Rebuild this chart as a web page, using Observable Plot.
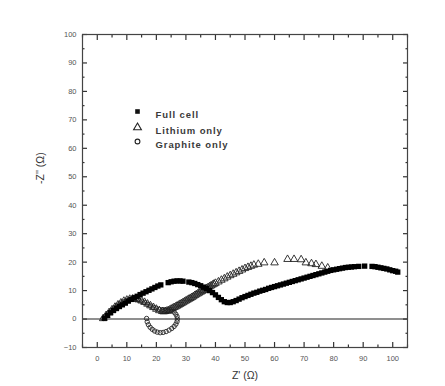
<!DOCTYPE html>
<html><head><meta charset="utf-8">
<script src="https://cdn.jsdelivr.net/npm/d3@7"></script>
<script src="https://cdn.jsdelivr.net/npm/@observablehq/plot@0.6"></script>
<style>
html,body{margin:0;padding:0;background:#fff;}
#chart{width:445px;height:386px;}
</style>
</head><body><div id="chart"></div>
<script>
// Full cell (filled squares)
const fullX = [2.5,3.5,4.5,5.5,6.5,7.5,8.5,9.5,10.5,11.5,12.5,13.5,14.5,15.5,16.5,17.5,18.5,19.5,20.5,21.5,24,25,26,27,28,29,31,32,33,34,35,36,37,38,39,40,41,42,43,44,45,46,47,48,49,50,51,52,53,54,55,56,57,58,59,60,61,62,63,64,65,66,67,68,69,70,71,72,73,74,75,76,77,78,79,80,81,82,83,84,85,86,87,88.5,90.5,93,94,95,96,97,98,99,100,101,101.7];
const fullY = [0.3,1.3,2.2,3.0,3.7,4.4,5.0,5.6,6.3,6.9,7.5,8.0,8.6,9.1,9.6,10.1,10.6,11.1,11.6,12.0,12.8,13.1,13.3,13.4,13.4,13.3,13.0,12.8,12.5,12.1,11.7,11.2,10.7,10.0,9.3,8.5,7.6,6.8,6.1,5.8,5.8,6.1,6.5,7.0,7.5,7.9,8.3,8.7,9.1,9.4,9.8,10.1,10.4,10.8,11.1,11.4,11.7,12.0,12.3,12.6,12.9,13.2,13.5,13.8,14.1,14.4,14.7,15.0,15.3,15.6,15.9,16.2,16.5,16.8,17.1,17.3,17.5,17.7,17.9,18.1,18.2,18.3,18.4,18.5,18.6,18.5,18.4,18.2,18.0,17.8,17.6,17.3,17.0,16.8,16.5,16.3];

// Lithium only (open triangles)
const lithX = [2,3,4,5,6,7,8,9,10,11,12,13,14,15,16,17,18,19,20,21,22,22.5,23,23.5,24,24.5,25,25.5,26,26.5,27,27.5,28,28.5,29,29.5,30,30.5,31,31.5,32,32.5,33,33.5,34,34.5,35,35.5,36,36.5,37,37.5,38,38.5,39,39.5,40,41,42,43,44,45,46,47,48,49,50,51,52,53,54.5,56.5,60,64.4,66.6,69,70.6,72.5,74,76,78];
const lithY = [0.2,1.3,2.3,3.3,4.2,5.0,5.7,6.3,6.7,7.0,7.1,7.0,6.8,6.4,5.9,5.3,4.7,4.1,3.5,3.0,2.7,2.6,2.7,2.8,3.0,3.2,3.5,3.8,4.1,4.3,4.6,4.9,5.2,5.5,5.8,6.1,6.4,6.7,7.0,7.3,7.6,7.9,8.3,8.6,8.9,9.2,9.5,9.8,10.1,10.5,10.8,11.1,11.4,11.7,12.0,12.3,12.6,13.1,13.7,14.2,14.8,15.3,15.8,16.3,16.8,17.3,17.8,18.2,18.6,19.0,19.3,19.8,19.8,21.0,21.0,20.9,19.8,19.5,19.2,18.6,18.0];

// Graphite only (open circles)
const graphX = [2,3,4,5,6,7,8,9,10,11,12,13,14,15,16,17,18,19,20,21,22,23,24,25,26,26.6,27,27.1,27,26.6,26,25.2,24.3,23.3,22.3,21.3,20.3,19.4,18.6,17.9,17.3,16.9,16.7];
const graphY = [0.2,1.2,2.3,3.2,4.1,4.9,5.6,6.1,6.6,6.9,7.0,6.9,6.7,6.3,5.8,5.2,4.6,4.1,3.7,3.4,3.2,3.1,3.0,2.8,2.4,1.7,0.9,0.0,-0.9,-1.8,-2.6,-3.3,-3.9,-4.4,-4.7,-4.8,-4.6,-4.2,-3.6,-2.9,-2.0,-1.0,0.2];

const xTicks = [0,10,20,30,40,50,60,70,80,90,100];
const xMinor = [-5,5,15,25,35,45,55,65,75,85,95,105];
const yTicks = [-10,0,10,20,30,40,50,60,70,80,90,100];
const yMinor = [-5,5,15,25,35,45,55,65,75,85,95];
const legendLabels = ["Full cell","Lithium only","Graphite only"];

const full = fullX.map((x,i)=>({x, y: fullY[i]}));
const lith = lithX.map((x,i)=>({x, y: lithY[i]}));
const graph = graphX.map((x,i)=>({x, y: graphY[i]}));

const tickColor = "#555";
const font = "Liberation Sans, Arial, sans-serif";
const tk = "#333";
const none = () => "";

// inward ticks: shift each axis into the frame by its own tick length
function inward(len, xt, yt) {
  const o = {tickFormat: none, label: null, stroke: tk, strokeWidth: 1.2};
  return [
    Plot.axisX({anchor: "bottom", ticks: xt, tickSize: len, dy: -len, ...o}),
    Plot.axisX({anchor: "top", ticks: xt, tickSize: len, dy: len, ...o}),
    Plot.axisY({anchor: "left", ticks: yt, tickSize: len, dx: len, ...o}),
    Plot.axisY({anchor: "right", ticks: yt, tickSize: len, dx: -len, ...o})
  ];
}

const chart = Plot.plot({
  width: 445, height: 386,
  marginTop: 34, marginRight: 38, marginBottom: 39, marginLeft: 82,
  style: {fontFamily: font, background: "#fff"},
  x: {domain: [-5, 105]},
  y: {domain: [-10, 100]},
  marks: [
    Plot.ruleY([0], {stroke: "#6a6a6a", strokeWidth: 1.6}),
    ...inward(5, xTicks, yTicks),
    ...inward(2.5, xMinor, yMinor),
    Plot.frame({stroke: "#444", strokeWidth: 1.2}),
    // labels
    Plot.axisX({anchor: "bottom", ticks: xTicks, tickSize: 0, tickPadding: 8, label: null, fill: tickColor, fontSize: 7.5}),
    Plot.axisY({anchor: "left", ticks: yTicks, tickSize: 0, tickPadding: 6, label: null, fill: tickColor, fontSize: 7.5}),
    Plot.text(["Z' (\u03A9)"], {frameAnchor: "bottom", dy: 24, fontSize: 10.5, fill: "#333", lineAnchor: "top"}),
    Plot.text(["-Z'' (\u03A9)"], {frameAnchor: "left", dx: -42, dy: -7, rotate: -90, fontSize: 10.5, fill: "#333"}),
    // data
    Plot.dot(lith, {x: "x", y: "y", symbol: "triangle", r: 2.8, fill: "none", stroke: "#222", strokeWidth: 0.9}),
    Plot.dot(graph, {x: "x", y: "y", symbol: "circle", r: 2.2, fill: "none", stroke: "#222", strokeWidth: 0.9}),
    Plot.dot(full, {x: "x", y: "y", symbol: "square", r: 3, fill: "#000", stroke: "none"}),
    // legend
    Plot.dot([legendLabels[0]], {frameAnchor: "top-left", dx: 55, dy: 77, symbol: "square", r: 2.6, fill: "#111"}),
    Plot.dot([legendLabels[1]], {frameAnchor: "top-left", dx: 55, dy: 93, symbol: "triangle", r: 2.9, fill: "none", stroke: "#222", strokeWidth: 1.1}),
    Plot.dot([legendLabels[2]], {frameAnchor: "top-left", dx: 55, dy: 107, symbol: "circle", r: 2.4, fill: "none", stroke: "#222", strokeWidth: 1.1}),
    Plot.text([legendLabels[0]], {frameAnchor: "top-left", dx: 73, dy: 77, textAnchor: "start", fontSize: 9.5, fill: "#3a3a3a", fontWeight: "bold"}),
    Plot.text([legendLabels[1]], {frameAnchor: "top-left", dx: 73, dy: 93, textAnchor: "start", fontSize: 9.5, fill: "#3a3a3a", fontWeight: "bold"}),
    Plot.text([legendLabels[2]], {frameAnchor: "top-left", dx: 73, dy: 107, textAnchor: "start", fontSize: 9.5, fill: "#3a3a3a", fontWeight: "bold"})
  ]
});
chart.querySelectorAll("text").forEach(t => { if (legendLabels.includes(t.textContent)) t.setAttribute("letter-spacing", "0.9"); });
document.getElementById("chart").appendChild(chart);
</script>
</body></html>
